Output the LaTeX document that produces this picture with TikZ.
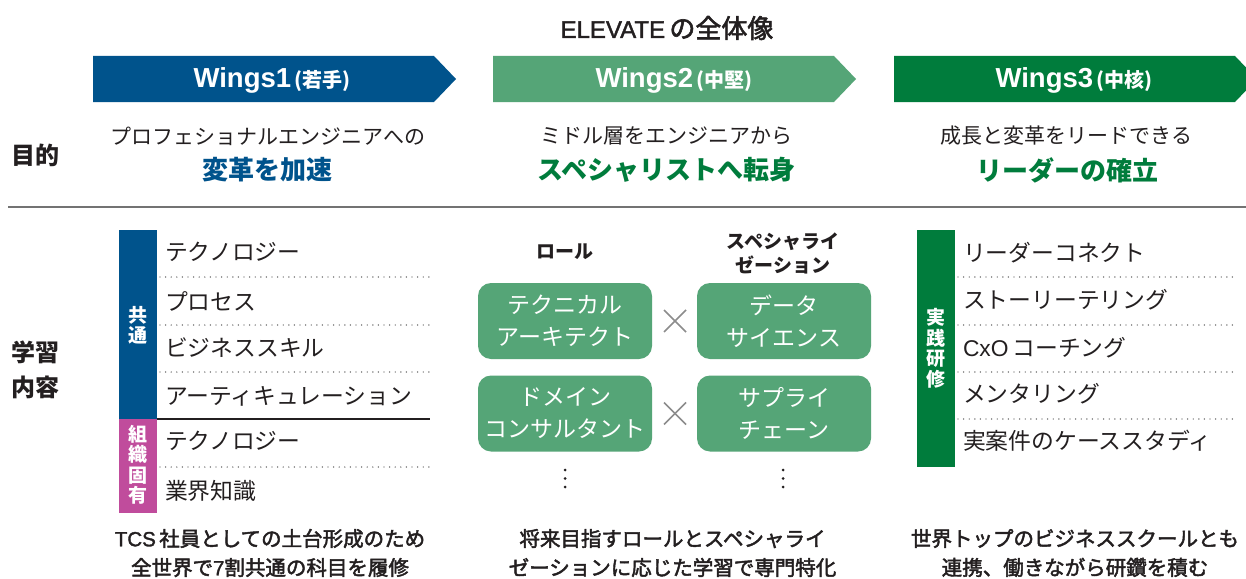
\documentclass[tikz,border=0pt]{standalone}
\usepackage{fontspec}
\setmainfont{Noto Sans CJK JP}
\newfontfamily\jpmed[FakeBold=2.2]{Noto Sans CJK JP}
\newfontfamily\lat[FakeBold=1.6]{Liberation Sans}
\newfontfamily\latb{Liberation Sans}
\definecolor{wblue}{HTML}{00538C}
\definecolor{wlgreen}{HTML}{55A577}
\definecolor{wdgreen}{HTML}{007C3C}
\definecolor{wpink}{HTML}{C04C9C}
\definecolor{txt}{HTML}{231F20}
\begin{document}
\begin{tikzpicture}[x=1pt,y=-1pt,
  every node/.style={inner sep=0pt, outer sep=0pt, text=txt},
  titlefont/.style={font=\jpmed\fontsize{26}{28}\selectfont},
  wingtxt/.style={text=white, font=\latb\bfseries\fontsize{27.5}{32}\selectfont},
  aim/.style={font=\fontsize{21}{24}\selectfont},
  aimbig/.style={font=\bfseries\fontsize{26}{30}\selectfont},
  sidelbl/.style={font=\bfseries\fontsize{24}{35}\selectfont, align=center},
  item/.style={anchor=west, font=\fontsize{22.8}{26}\selectfont},
  barlbl/.style={text=white, font=\bfseries\fontsize{19}{20.5}\selectfont, align=center},
  rolebox/.style={rounded corners=13pt, fill=wlgreen, minimum width=174pt, minimum height=76pt, text=white, align=center, font=\fontsize{23}{32}\selectfont},
  colhead/.style={font=\bfseries\fontsize{19}{24}\selectfont, align=center},
  foot/.style={font=\jpmed\fontsize{20.5}{29}\selectfont, align=center},
  dotline/.style={draw=black!70, line width=1.4pt, dash pattern=on 0pt off 5.6pt, line cap=round},
  crossline/.style={draw=black!45, line width=1.6pt}
]
\useasboundingbox[fill=white] (0,0) rectangle (1246,578);

% title
\node[titlefont] (title) at (667,28) {{\lat\fontsize{24}{28}\selectfont ELEVATE}\,の全体像};

% arrows
\fill[wblue] (93,56) -- (434,56) -- (456,79) -- (434,102) -- (93,102) -- cycle;
\fill[wlgreen] (493,56) -- (834,56) -- (856,79) -- (834,102) -- (493,102) -- cycle;
\fill[wdgreen] (894,56) -- (1235,56) -- (1257,79) -- (1235,102) -- (894,102) -- cycle;
\node[wingtxt] (w1) at (272,80) {Wings1{\rmfamily\bfseries\fontsize{20}{22}\selectfont\,(若手)}};
\node[wingtxt] (w2) at (674,80) {Wings2{\rmfamily\bfseries\fontsize{20}{22}\selectfont\,(中堅)}};
\node[wingtxt] (w3) at (1074,80) {Wings3{\rmfamily\bfseries\fontsize{20}{22}\selectfont\,(中核)}};

% purpose
\node[sidelbl] (mokuteki) at (36,155) {目的};
\node[aim] (a1) at (267.5,136) {プロフェショナルエンジニアへの};
\node[aimbig, text=wblue] (b1) at (267,170) {変革を加速};
\node[aim] (a2) at (666.5,136) {ミドル層をエンジニアから};
\node[aimbig, text=wdgreen] (b2) at (666.5,170) {スペシャリストへ転身};
\node[aim] (a3) at (1066.5,136) {成長と変革をリードできる};
\node[aimbig, text=wdgreen] (b3) at (1067.5,170) {リーダーの確立};

\draw[draw=black!55, line width=1.5pt] (8,207) -- (1246,207);

\node[sidelbl] (gakushu) at (36,370) {学習\\内容};

% left column
\fill[wblue] (119,230) rectangle (157,419);
\fill[wpink] (119,419) rectangle (157,513);
\node[barlbl] (kyotsu) at (138,325) {共\\通};
\node[barlbl] (soshiki) at (138,465) {組\\織\\固\\有};
\node[item] (l1) at (165,252) {テクノロジー};
\node[item] (l2) at (165,301) {プロセス};
\node[item] (l3) at (165,348) {ビジネススキル};
\node[item] (l4) at (165,396) {アーティキュレーション};
\node[item] (l5) at (165,441) {テクノロジー};
\node[item] (l6) at (165,491) {業界知識};
\draw[dotline] (160,277) -- (430,277);
\draw[dotline] (160,325) -- (430,325);
\draw[dotline] (160,372) -- (430,372);
\draw[draw=txt, line width=1.2pt] (157,419) -- (430,419);
\draw[dotline] (160,467) -- (430,467);

% middle column
\node[colhead] (role) at (565,252) {ロール};
\node[colhead] (spec) at (783,253) {スペシャライ\\ゼーション};
\node[rolebox] (r1) at (565,321) {テクニカル\\アーキテクト};
\node[rolebox] (s1) at (784,321) {データ\\サイエンス};
\node[rolebox] (r2) at (565,413.5) {ドメイン\\コンサルタント};
\node[rolebox] (s2) at (784,413.5) {サプライ\\チェーン};
\coordinate (x1) at (675,321);
\coordinate (x2) at (675,413.5);
\draw[crossline] ([shift={(-11,-11)}]x1) -- ([shift={(11,11)}]x1);
\draw[crossline] ([shift={(-11,11)}]x1) -- ([shift={(11,-11)}]x1);
\draw[crossline] ([shift={(-11,-11)}]x2) -- ([shift={(11,11)}]x2);
\draw[crossline] ([shift={(-11,11)}]x2) -- ([shift={(11,-11)}]x2);
\foreach \yy in {470,478.5,487} {
  \fill[txt] (565,\yy) circle (1.5);
  \fill[txt] (783,\yy) circle (1.5);
}

% right column
\fill[wdgreen] (917,230) rectangle (955,467);
\node[barlbl] (jissen) at (936,348.5) {実\\践\\研\\修};
\node[item] (p1) at (963,253) {リーダーコネクト};
\node[item] (p2) at (963,300) {ストーリーテリング};
\node[item] (p3) at (963,348) {{\latb CxO}\,コーチング};
\node[item] (p4) at (963,394) {メンタリング};
\node[item] (p5) at (963,441) {実案件のケーススタディ};
\draw[dotline] (958,277) -- (1236,277);
\draw[dotline] (958,325) -- (1236,325);
\draw[dotline] (958,372) -- (1236,372);
\draw[dotline] (958,419) -- (1236,419);

% footers
\node[foot] (f1) at (270,553) {{\lat TCS}\,社員としての土台形成のため\\全世界で{\lat 7}割共通の科目を履修};
\node[foot] (f2) at (672.5,553) {将来目指すロールとスペシャライ\\ゼーションに応じた学習で専門特化};
\node[foot] (f3) at (1075,553) {世界トップのビジネススクールとも\\連携、働きながら研鑽を積む};
\end{tikzpicture}
\end{document}
